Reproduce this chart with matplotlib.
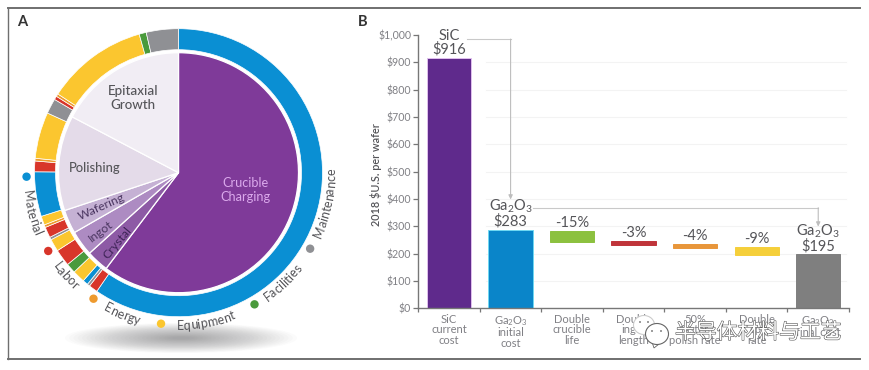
#!/usr/bin/env python
# -*- coding: utf-8 -*-

import numpy as np
import matplotlib
matplotlib.use("Agg")
import matplotlib.pyplot as plt
import matplotlib.patheffects as pe
from matplotlib.patches import Ellipse, Circle, Polygon
from matplotlib.textpath import TextPath
from matplotlib.font_manager import FontProperties

plt.rcParams['font.family'] = ['Lato', 'Noto Sans CJK SC', 'DejaVu Sans']
plt.rcParams['mathtext.fontset'] = 'custom'
plt.rcParams['mathtext.rm'] = 'Lato'
plt.rcParams['mathtext.default'] = 'regular'

W, H = 869, 370

## data, panel A
process_names = ["Crucible\nCharging", "Crystal", "Ingot", "Wafering", "Polishing", "Epitaxial\nGrowth"]
process_share = [60.3, 3.0, 3.4, 3.2, 12.8, 17.3]
ring_kind = ["material", "labor", "maint", "material", "equip", "fac", "labor", "equip", "maint",
             "labor", "energy", "equip", "material", "labor", "energy", "equip", "maint",
             "labor", "energy", "equip", "fac", "maint"]
ring_share = [59.6, 1.0, 0.3, 0.6, 1.4, 1.1, 1.9, 1.4, 0.3,
              1.2, 0.3, 1.0, 5.0, 1.2, 0.3, 5.2, 1.7,
              0.4, 0.3, 11.4, 0.8, 3.6]
legend_names = ["Material", "Labor", "Energy", "Equipment", "Facilities", "Maintenance"]

## data, panel B
cat_labels = ["SiC\ncurrent\ncost", "Ga$_2$O$_3$\ninitial\ncost", "Double\ncrucible\nlife",
              "Double\ningot\nlength", "50%\nfaster\npolish rate", "Double\nepi\nrate",
              "Ga$_2$O$_3$\nfinal cost"]
bar_bottom = [0, 0, 243, 233, 219, 196, 0]
bar_top = [916, 288, 284, 246, 236, 223, 198]
bar_text = ["SiC\n$916", "Ga$_2$O$_3$\n$283", "-15%", "-3%", "-4%", "-9%", "Ga$_2$O$_3$\n$195"]
y_ticks = [0, 100, 200, 300, 400, 500, 600, 700, 800, 900, 1000]

## colours
process_colors = ['#7f3a99', '#8d5aa5', '#ad8bc2', '#c5b1d4', '#e4dbe9', '#f1edf4']
kind_colors = {"material": '#0a8fd3', "labor": '#d8352a', "energy": '#ee9a2e',
               "equip": '#fbc62f', "fac": '#4a9a3c', "maint": '#8f9094'}
bar_colors = ['#5f2a8c', '#0a85c9', '#8cc13f', '#c0343a', '#e8963a', '#f5cf3a', '#7f7f7f']
bar_edges = ['#e0c0ee', '#6fd8f2', '#8cc13f', '#c0343a', '#e8963a', '#f5cf3a', '#7f7f7f']
TXT = '#555559'
TICK = '#808085'

fig = plt.figure(figsize=(W / 100, H / 100), dpi=100)

## panel B
ax = fig.add_axes([418.3 / W, (H - 308.3) / H, (849 - 418.3) / W, (308.3 - 35) / H])
x = np.arange(len(bar_top))
for v in y_ticks[1:-1]:
    ax.plot([0.6, 6.45], [v, v], color='#f3f3f3', lw=0.8, zorder=0)
ax.bar(x, np.array(bar_top) - np.array(bar_bottom), bottom=bar_bottom, width=0.72,
       color=bar_colors, edgecolor=bar_edges, linewidth=0.7, zorder=2)
ax.set_xlim(-0.5, 6.5)
ax.set_ylim(0, 1000)
ax.set_yticks(y_ticks)
ax.set_yticklabels(["$" + format(v, ",") for v in y_ticks], fontsize=7.6, color=TICK)
ax.set_xticks(np.arange(-0.5, 7), labels=[])
ax.set_xticks(x, labels=cat_labels, minor=True, fontsize=8, color=TICK, linespacing=0.95)
ax.tick_params(axis='y', length=3.6, width=0.9, color='#777777', pad=1.5)
ax.tick_params(axis='x', which='major', length=3, width=0.9, color='#777777')
ax.tick_params(axis='x', which='minor', length=0, pad=4)
for s in ['top', 'right']:
    ax.spines[s].set_visible(False)
for s in ['left', 'bottom']:
    ax.spines[s].set_color('#777777')
    ax.spines[s].set_linewidth(1.0)
ax.patch.set_alpha(0)
ax.set_ylabel("2018 $U.S. per wafer", fontsize=7.8, color=TXT, fontweight='semibold')
ax.yaxis.set_label_coords(-0.085, 0.49)

for i, s in enumerate(bar_text):
    ax.annotate(s, (i, bar_top[i]), xytext=(0, 1), textcoords='offset pixels', ha='center', va='bottom',
                fontsize=10.5, color=TXT, linespacing=0.92)

## connectors
ax.plot([0.29, 1.0], [985, 985], color='#c9c9c9', lw=0.8)
ax.annotate("", (1.0, 398), (1.0, 985), arrowprops=dict(arrowstyle='-|>,head_width=0.12,head_length=0.25',
            color='#bdbdbd', lw=0.8, shrinkA=0, shrinkB=0))
ax.plot([1.37, 6.0], [368, 368], color='#c9c9c9', lw=0.8)
ax.annotate("", (6.0, 299), (6.0, 368), arrowprops=dict(arrowstyle='-|>,head_width=0.12,head_length=0.25',
            color='#bdbdbd', lw=0.8, shrinkA=0, shrinkB=0))

## overlay in pixel coordinates, y up
ov = fig.add_axes([0, 0, 1, 1], zorder=5)
ov.patch.set_alpha(0)
cx, cy = 178.5, H - 172.7

## shadow under the wheel
for k in np.linspace(1, 0.08, 26):
    ov.add_patch(Ellipse((181, H - 338), 232 * k, 30 * k, color='#55555a', alpha=0.022, lw=0))

ov.pie(process_share, colors=process_colors, startangle=90, counterclock=False,
       center=(cx, cy), radius=120, frame=True,
       wedgeprops=dict(edgecolor='white', linewidth=0.9))
ov.pie(ring_share, colors=[kind_colors[k] for k in ring_kind], startangle=90, counterclock=False,
       center=(cx, cy), radius=144, frame=True,
       wedgeprops=dict(width=21, edgecolor='white', linewidth=0.5))
ov.set_xlim(0, W)
ov.set_ylim(0, H)
ov.axis('off')

## wheel labels
ov.text(245.7, H - 190, process_names[0], color='#dba9ec', fontsize=9.2, ha='center', va='center', linespacing=1.25)
ov.text(133, H - 98, process_names[5], color=TXT, fontsize=9.6, ha='center', va='center',
        linespacing=1.25, fontweight='medium')
ov.text(95, H - 168, process_names[4], color=TXT, fontsize=9.4, ha='center', va='center', fontweight='medium')
ov.text(101, H - 207, process_names[3], color='#4a3560', fontsize=8.8, ha='center', va='center', rotation=24, rotation_mode='anchor')
ov.text(101, H - 231, process_names[2], color='#4a3560', fontsize=8.8, ha='center', va='center', rotation=37, rotation_mode='anchor')
ov.text(117, H - 243, process_names[1], color='#3f2458', fontsize=8.8, ha='center', va='center', rotation=50, rotation_mode='anchor')


def arc_text(s, mid, r=153, size=9.0):
    ## letters along the wheel, reading counter clockwise, mid in degrees clockwise from top
    fp = FontProperties(family='Lato')
    total = TextPath((0, 0), s, size=size, prop=fp).get_extents().width * 100 / 72
    for i, ch in enumerate(s):
        a = TextPath((0, 0), s[:i] + ch, size=size, prop=fp).get_extents().x1 * 100 / 72
        b = TextPath((0, 0), ch, size=size, prop=fp).get_extents().width * 100 / 72
        d = a - b / 2 - total / 2
        t = mid - np.degrees(d / r)
        px = cx + r * np.sin(np.radians(t))
        py = cy + r * np.cos(np.radians(t))
        ov.text(px, py, ch, fontsize=size, color=TXT, ha='center', va='center',
                rotation=180 - t, rotation_mode='anchor')


legend_mid = [255.3, 228, 202, 170, 137, 102]
legend_dot = [268.5, 239, 214, 186.6, 150, 120]
legend_kind = ["material", "labor", "energy", "equip", "fac", "maint"]
for name, m, d, k in zip(legend_names, legend_mid, legend_dot, legend_kind):
    arc_text(name, m)
    ov.add_patch(Circle((cx + 152 * np.sin(np.radians(d)), cy + 152 * np.cos(np.radians(d))), 4.2,
                        color=kind_colors[k], lw=0))

ov.text(21.7, H - 21.7, "A", fontsize=10.5, fontweight='bold', color='#333333', ha='center', va='center')
ov.text(362.7, H - 22, "B", fontsize=10.5, fontweight='bold', color='#333333', ha='center', va='center')

## frame lines
ov.plot([8, 860], [H - 8.3, H - 8.3], color='#6f6f6f', lw=1.4)
ov.plot([8, 860], [H - 358.5, H - 358.5], color='#6f6f6f', lw=1.4)
ov.plot([8, 8], [H - 8.3, H - 358.5], color='#6f6f6f', lw=1.0)

## watermark
edge = [pe.withStroke(linewidth=0.8, foreground='#555555')]
ov.text(758.5, H - 332.5, "半导体材料与工艺", color='white', fontsize=15, ha='center', va='center',
        family=['Noto Sans CJK SC', 'DejaVu Sans'], path_effects=edge)
ov.add_patch(Ellipse((644, H - 325), 21, 19, fc='white', ec='#cccccc', lw=0.8))
ov.add_patch(Polygon([(654, H - 348), (652, H - 342), (659, H - 344)], fc='white', ec='#666666', lw=0.6))
ov.add_patch(Ellipse((657, H - 334), 23, 21, fc='white', ec='#666666', lw=0.8))
for dx, dy in [(640, 322), (648, 322), (652, 331), (661, 331)]:
    ov.add_patch(Circle((dx, H - dy), 0.9, color='#666666', lw=0))

fig.savefig('out.png', dpi=100)
